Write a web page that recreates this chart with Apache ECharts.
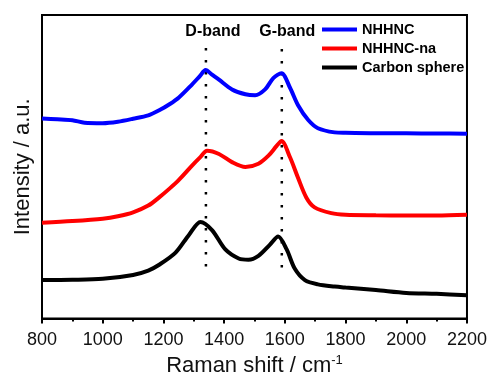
<!DOCTYPE html>
<html>
<head>
<meta charset="utf-8">
<script src="https://cdn.jsdelivr.net/npm/echarts@6/dist/echarts.min.js"></script>
<style>html,body{margin:0;padding:0;background:#fff}#c{width:490px;height:382px}</style>
</head>
<body>
<div id="c"></div>
<script>
// Raman shift (cm-1) and intensity (arbitrary units, offset stacked)
const blueX = [800,850,900,940,1000,1050,1100,1150,1186,1220,1251,1294,1320,1339,1360,1383,1426,1470,1502,1535,1562,1589,1617,1644,1677,1709,1764,1800,1900,2000,2100,2200];
const blueY = [206.3,205.5,204.5,202,201.5,203,206,209.5,214.7,221,228,241.3,250,256.3,251.5,246.3,236.3,231.3,230.3,236.3,248,253,238,219.7,204.7,196.3,192,191.5,191,191,190.8,190.7];

const redX = [800,900,1000,1050,1100,1150,1186,1220,1251,1295,1320,1344,1383,1426,1470,1513,1546,1573,1589,1617,1644,1671,1698,1753,1800,1900,2000,2100,2200];
const redY = [98.7,100.5,103,105.5,109.5,116.5,125,134,143,158,166,173,169.7,161.3,156.3,159.7,168,178,183,166.3,144.7,124.7,114.7,108.7,107,106.5,106.3,106.3,107];

const blackX = [800,900,1000,1100,1150,1186,1240,1284,1322,1360,1404,1448,1480,1513,1551,1578,1606,1633,1666,1709,1764,1800,1900,2000,2100,2200];
const blackY = [39.7,40,41,45,49.5,55.5,68,86.3,99.7,91.3,71.3,62,60.7,64.7,76.3,84.7,71.3,51.3,39.7,35.3,33,32,29.5,26.5,25.5,24];

const seriesNames = ['NHHNC', 'NHHNC-na', 'Carbon sphere'];
const bandNames = ['D-band', 'G-band'];
const bandX = [1340, 1590];
const bandLineTop = [279, 278];
const bandLineBottom = [46, 45];
const bandLabelX = [1363, 1608];
const bandLabelY = [296, 296];
const xTicks = [800, 1000, 1200, 1400, 1600, 1800, 2000, 2200];

const zip = (xs, ys) => xs.map((x, i) => [x, ys[i]]);

const chart = echarts.init(document.getElementById('c'), null, {renderer: 'canvas'});

const lineSeries = (name, xs, ys, color) => ({
  name, type: 'line', data: zip(xs, ys), smooth: 0.3, symbol: 'none',
  lineStyle: {color, width: 4}, itemStyle: {color}, z: 3
});

const bandSeries = bandX.map((x, i) => ({
  type: 'line', data: [[x, bandLineTop[i]], [x, bandLineBottom[i]]], symbol: 'none',
  lineStyle: {color: '#000', width: 2.5, type: [2.5, 9.5]}, silent: true, z: 2,
  markPoint: {
    symbol: 'circle', symbolSize: 0, silent: true, animation: false,
    data: [{coord: [bandLabelX[i], bandLabelY[i]], name: bandNames[i]}],
    label: {show: true, position: 'inside', formatter: bandNames[i],
      fontFamily: 'Liberation Sans, Arial', fontWeight: 'bold', fontSize: 16, color: '#000', opacity: 1}
  }
}));

chart.setOption({
  animation: false,
  backgroundColor: '#fff',
  grid: {left: 42, right: 20, top: 15, bottom: 54, show: true, borderColor: '#000', borderWidth: 2},
  legend: {
    data: seriesNames, orient: 'vertical', left: 322, top: 22, padding: 0,
    itemWidth: 35, itemHeight: 4, itemGap: 4, icon: 'rect',
    textStyle: {fontFamily: 'Liberation Sans, Arial', fontWeight: 'bold', fontSize: 14.5, color: '#000', lineHeight: 15}
  },
  xAxis: {
    type: 'value', min: 800, max: 2200, interval: 200,
    axisLine: {show: true, lineStyle: {color: '#000', width: 2}},
    axisTick: {show: true, inside: false, length: 5, lineStyle: {color: '#000', width: 2}},
    minorTick: {show: true, splitNumber: 2, length: 3, lineStyle: {color: '#000', width: 2}},
    splitLine: {show: false},
    axisLabel: {fontFamily: 'Liberation Sans, Arial', fontSize: 18, color: '#111', margin: 12,
      formatter: v => xTicks.includes(v) ? String(v) : ''},
    name: '{a|Raman shift / cm}{b|-1}', nameLocation: 'middle', nameGap: 32,
    nameTextStyle: {rich: {
      a: {fontFamily: 'Liberation Sans, Arial', fontSize: 22, color: '#111'},
      b: {fontFamily: 'Liberation Sans, Arial', fontSize: 13, color: '#111', verticalAlign: 'top', padding: [0,0,12,0]}
    }}
  },
  yAxis: {
    type: 'value', min: 0, max: 313,
    axisLine: {show: true, lineStyle: {color: '#000', width: 2}},
    axisTick: {show: false}, axisLabel: {show: false}, splitLine: {show: false},
    name: 'Intensity / a.u.', nameLocation: 'middle', nameGap: 8,
    nameTextStyle: {fontFamily: 'Liberation Sans, Arial', fontSize: 22, color: '#111'}
  },
  series: [
    lineSeries(seriesNames[0], blueX, blueY, '#0000ff'),
    lineSeries(seriesNames[1], redX, redY, '#ff0000'),
    lineSeries(seriesNames[2], blackX, blackY, '#000000'),
    ...bandSeries
  ]
});
</script>
</body>
</html>
